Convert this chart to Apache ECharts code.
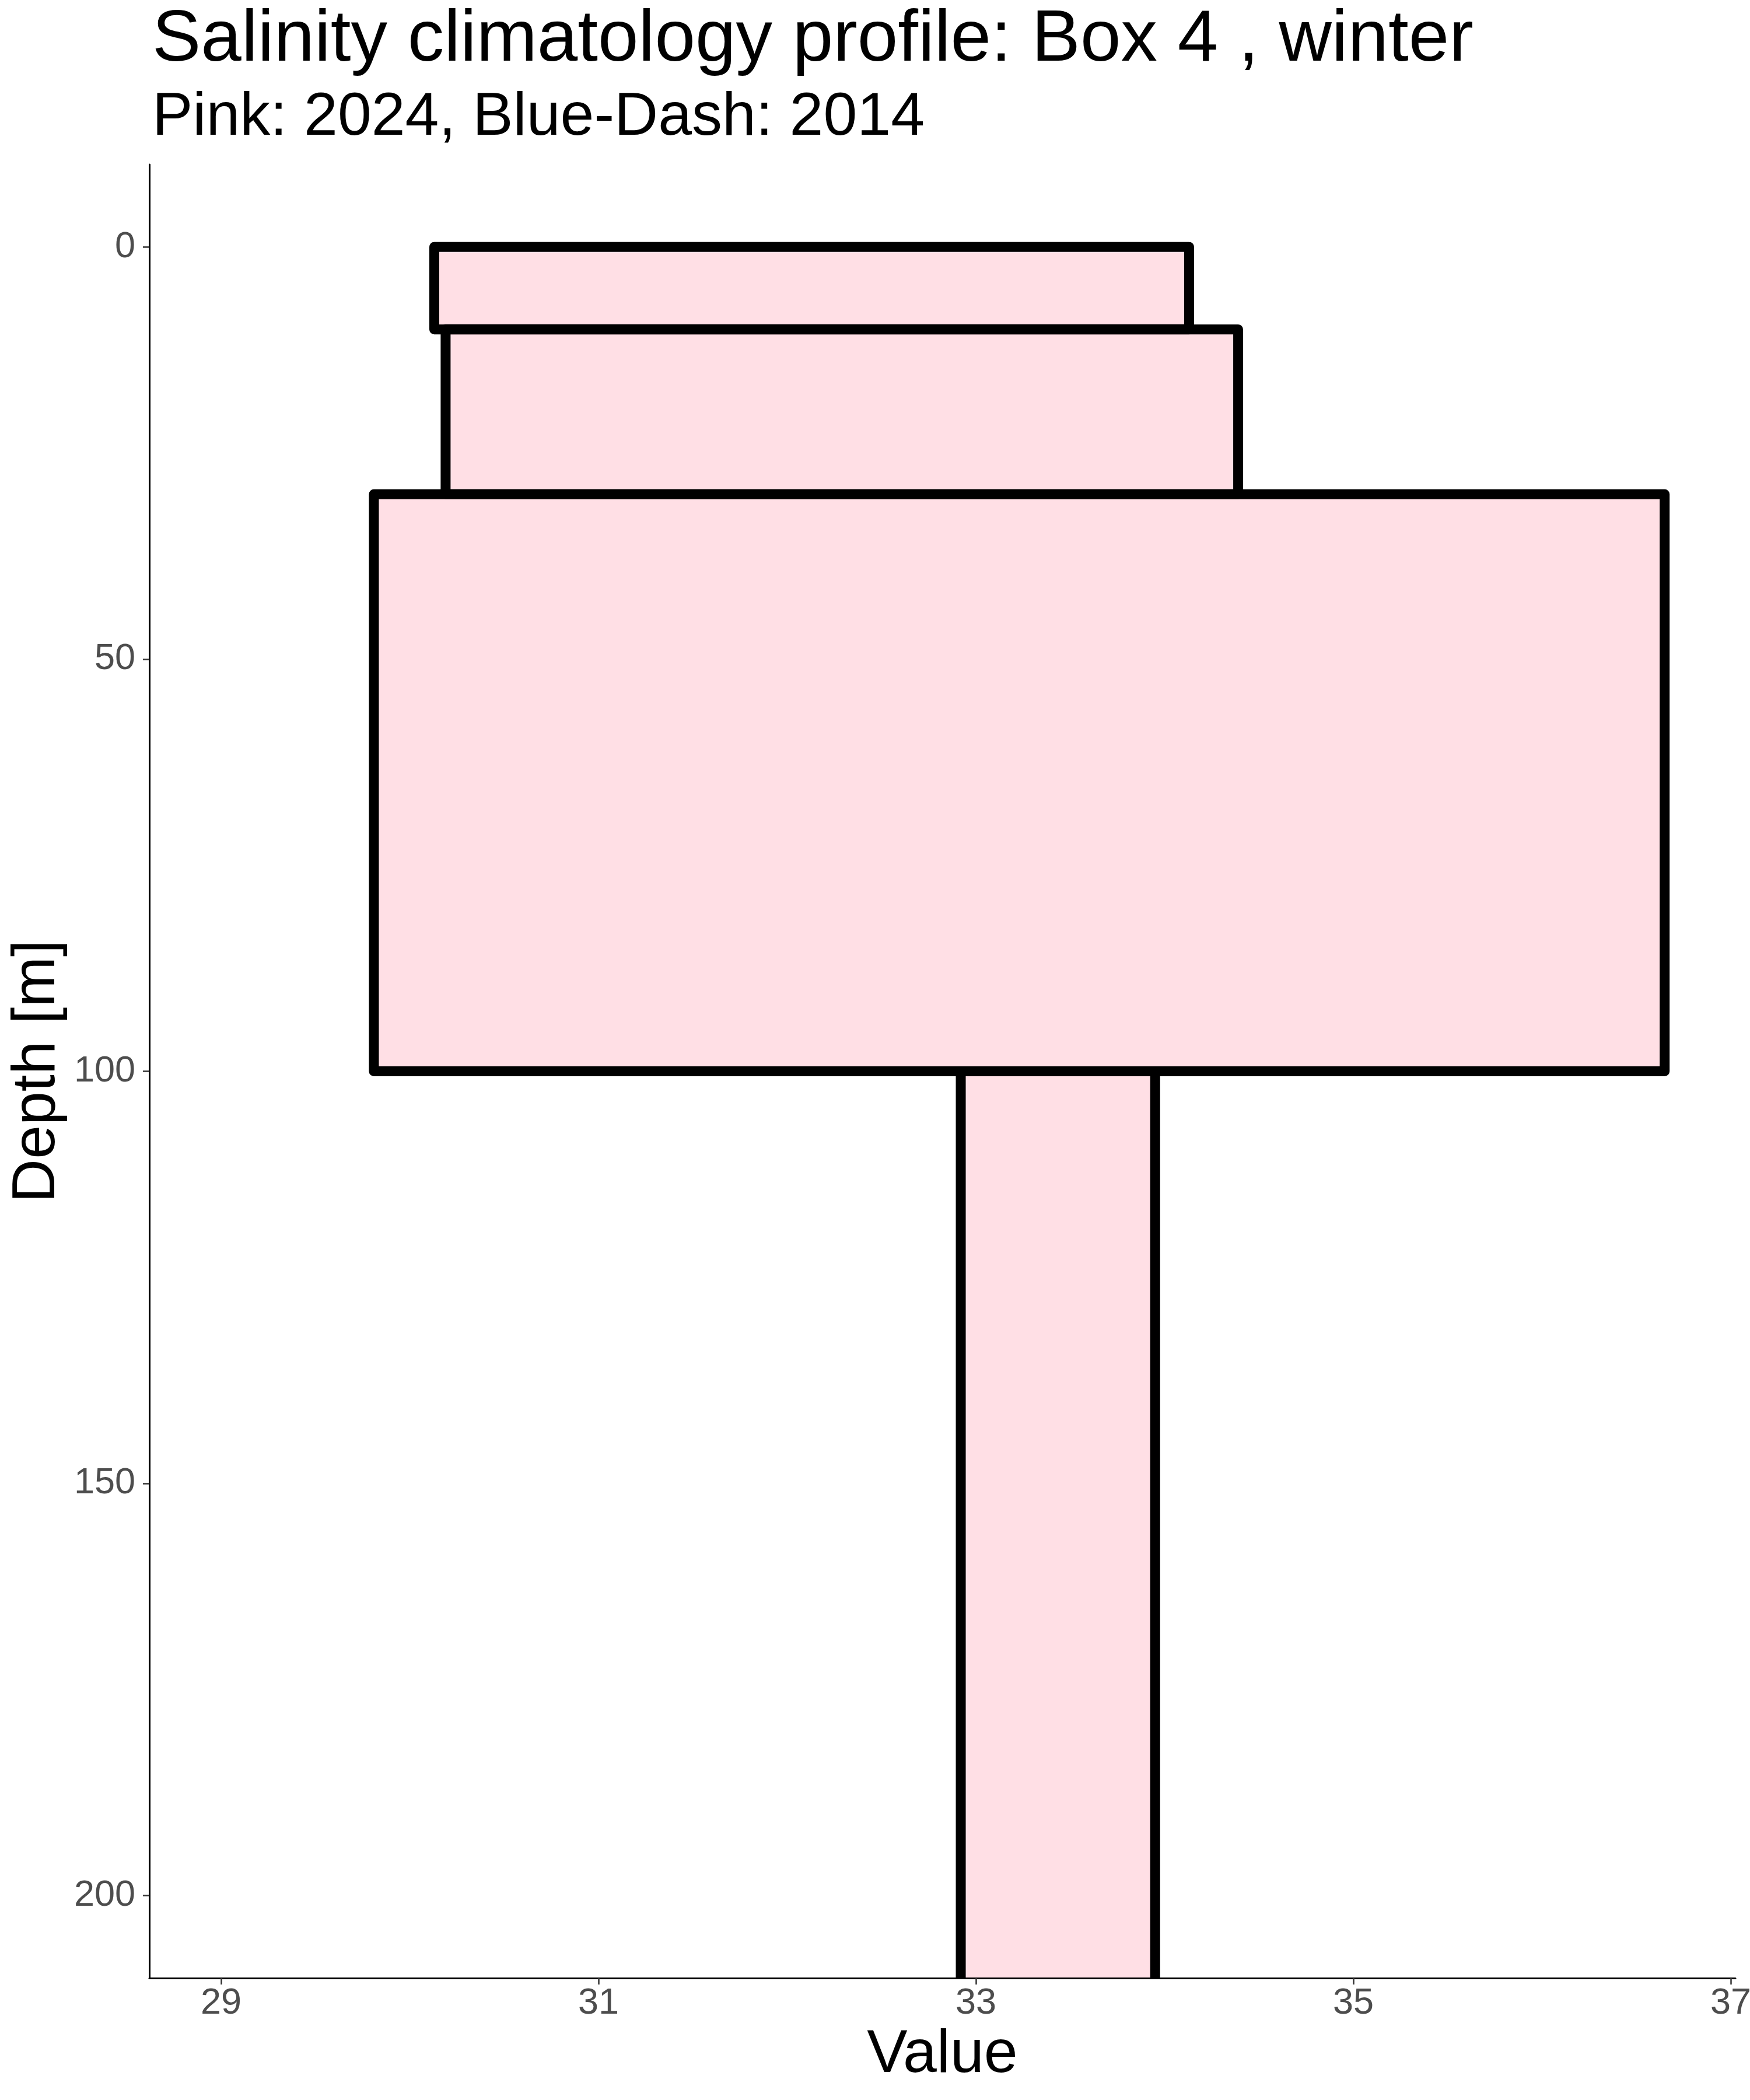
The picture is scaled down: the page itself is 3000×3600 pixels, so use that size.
<!DOCTYPE html>
<html>
<head>
<meta charset="utf-8">
<script src="https://cdn.jsdelivr.net/npm/echarts@6/dist/echarts.min.js"></script>
<style>
  html, body { margin: 0; padding: 0; background: #ffffff; }
  #chart { width: 3000px; height: 3600px; }
</style>
</head>
<body>
<div id="chart"></div>
<script>
// ---- data ----
const depthTop    = [0, 10, 30, 100];
const depthBottom = [10, 30, 100, 250];
const salMin      = [30.13, 30.19, 29.81, 32.92];
const salMax      = [34.13, 34.39, 36.65, 33.95];
const xTicks = [29, 31, 33, 35, 37];
const yTicks = [0, 50, 100, 150, 200];
const X_MIN = 28.62, X_MAX = 37.025;
const Y_MIN = -10, Y_MAX = 210;

const FONT = 'Liberation Sans, Arial, sans-serif';
const FILL = 'rgba(255,192,203,0.5)';

const boxes = depthTop.map((d, i) => [salMin[i], salMax[i], d, depthBottom[i]]);

const chart = echarts.init(document.getElementById('chart'), null, { renderer: 'canvas' });
chart.setOption({
  backgroundColor: '#ffffff',
  animation: false,
  title: [
    { text: 'Salinity climatology profile: Box 4 , winter', left: 256, top: 2,
      textStyle: { fontFamily: FONT, fontSize: 125, fontWeight: 'normal', color: '#000' } },
    { text: 'Pink: 2024, Blue-Dash: 2014', left: 256, top: 145,
      textStyle: { fontFamily: FONT, fontSize: 104, fontWeight: 'normal', color: '#000' } }
  ],
  grid: { left: 256, top: 282, right: 25, bottom: 209, containLabel: false, outerBoundsMode: 'none' },
  xAxis: {
    type: 'value', min: X_MIN, max: X_MAX, z: 5,
    name: 'Value', nameLocation: 'middle', nameGap: 80,
    nameTextStyle: { fontFamily: FONT, fontSize: 104, color: '#000' },
    axisLine: { show: true, onZero: false, lineStyle: { color: '#000', width: 3 } },
    axisTick: { show: true, customValues: xTicks, length: 11, lineStyle: { color: '#333', width: 2.5 } },
    axisLabel: { customValues: xTicks, fontFamily: FONT, fontSize: 63, color: '#4D4D4D', margin: 12, hideOverlap: false },
    splitLine: { show: false }
  },
  yAxis: {
    type: 'value', min: Y_MIN, max: Y_MAX, inverse: true, z: 5,
    name: 'Depth [m]', nameLocation: 'middle', nameGap: 138,
    nameTextStyle: { fontFamily: FONT, fontSize: 104, color: '#000' },
    axisLine: { show: true, onZero: false, lineStyle: { color: '#000', width: 3 } },
    axisTick: { show: true, customValues: yTicks, length: 11, lineStyle: { color: '#333', width: 2.5 } },
    axisLabel: { customValues: yTicks, fontFamily: FONT, fontSize: 63, color: '#4D4D4D', margin: 24 },
    splitLine: { show: false }
  },
  series: [{
    type: 'custom',
    data: boxes,
    encode: { x: [0, 1], y: [2, 3] },
    renderItem: function (params, api) {
      const x0 = api.value(0), x1 = api.value(1), d0 = api.value(2), d1 = api.value(3);
      const open = d1 > Y_MAX;
      const p0 = api.coord([x0, d0]);
      const p1 = api.coord([x1, Math.min(d1, Y_MAX)]);
      const fillRect = {
        type: 'rect',
        shape: { x: p0[0], y: p0[1], width: p1[0] - p0[0], height: p1[1] - p0[1] },
        style: { fill: FILL }
      };
      const pts = open
        ? [[p0[0], p1[1]], [p0[0], p0[1]], [p1[0], p0[1]], [p1[0], p1[1]]]
        : [[p0[0], p0[1]], [p1[0], p0[1]], [p1[0], p1[1]], [p0[0], p1[1]]];
      const outline = {
        type: open ? 'polyline' : 'polygon',
        shape: { points: pts },
        style: { fill: null, stroke: '#000', lineWidth: 17, lineJoin: 'round' }
      };
      return { type: 'group', children: [fillRect, outline] };
    }
  }]
});
</script>
</body>
</html>
